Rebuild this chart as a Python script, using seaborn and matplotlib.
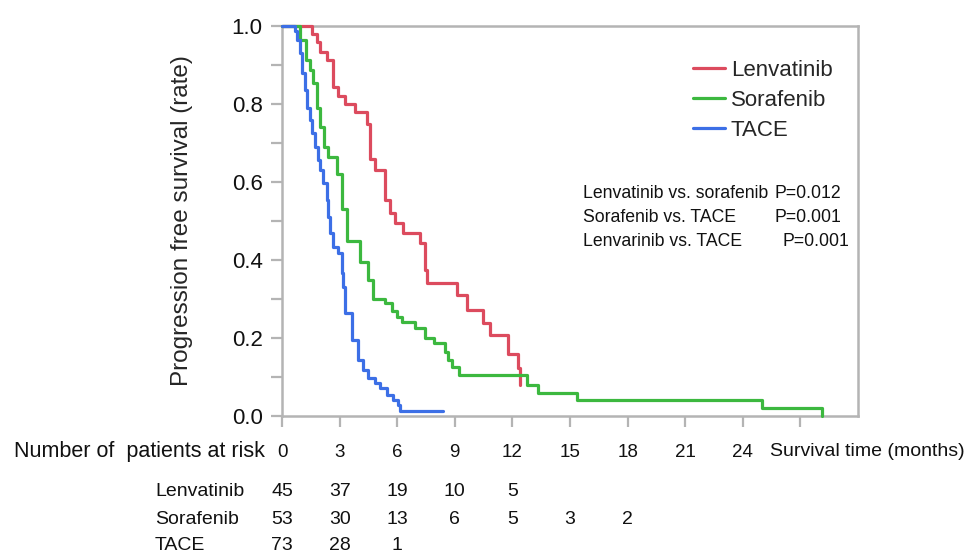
import pandas as pd
import matplotlib
matplotlib.use('Agg')
import matplotlib.pyplot as plt
import matplotlib.transforms as mtransforms
import seaborn as sns

# Kaplan-Meier steps (months, survival after the step)
lenva_t = [0, 1.55, 1.81, 1.98, 2.33, 2.67, 2.93, 3.28, 3.8, 4.41, 4.58, 4.84,
           5.36, 5.62, 5.89, 6.3, 7.19, 7.45, 7.55, 9.1, 9.62, 10.48, 10.83,
           11.77, 12.29, 12.4]
lenva_s = [1.0, 0.98, 0.96, 0.934, 0.913, 0.844, 0.82, 0.80, 0.78, 0.75, 0.66,
           0.63, 0.554, 0.52, 0.495, 0.47, 0.443, 0.374, 0.34, 0.31, 0.272,
           0.238, 0.208, 0.16, 0.122, 0.08]

sora_t = [0, 0.94, 1.23, 1.46, 1.61, 1.82, 1.98, 2.19, 2.4, 2.85, 3.11, 3.37,
          4.06, 4.48, 4.74, 5.36, 5.73, 5.99, 6.25, 6.93, 7.45, 7.92, 8.49,
          8.65, 8.85, 9.22, 12.76, 13.33, 15.36, 25.0, 28.1]
sora_s = [1.0, 0.964, 0.913, 0.887, 0.854, 0.79, 0.74, 0.69, 0.665, 0.62, 0.53,
          0.45, 0.395, 0.35, 0.30, 0.29, 0.27, 0.254, 0.24, 0.225, 0.20, 0.186,
          0.165, 0.144, 0.126, 0.105, 0.08, 0.06, 0.041, 0.02, 0.0]

tace_t = [0, 0.68, 0.8, 0.94, 1.03, 1.2, 1.29, 1.46, 1.55, 1.72, 1.89, 1.98,
          2.15, 2.33, 2.41, 2.5, 2.67, 2.92, 3.11, 3.2, 3.28, 3.63, 3.98, 4.22,
          4.5, 4.84, 5.1, 5.45, 5.8, 6.04, 6.15, 8.4]
tace_s = [1.0, 0.986, 0.964, 0.93, 0.88, 0.836, 0.79, 0.76, 0.726, 0.69, 0.656,
          0.63, 0.597, 0.554, 0.51, 0.47, 0.434, 0.418, 0.367, 0.33, 0.264,
          0.195, 0.144, 0.118, 0.097, 0.085, 0.072, 0.054, 0.041, 0.028, 0.014,
          0.014]

groups = ['Lenvatinib', 'Sorafenib', 'TACE']
colors = ['#dc4b5e', '#3cb83f', '#3c6fe6']

# numbers at risk
risk_times = [0, 3, 6, 9, 12, 15, 18]
risk_lenva = [45, 37, 19, 10, 5]
risk_sora = [53, 30, 13, 6, 5, 3, 2]
risk_tace = [73, 28, 1]

comparisons = ['Lenvatinib vs. sorafenib', 'Sorafenib vs. TACE', 'Lenvarinib vs. TACE']
pvalues = ['P=0.012', 'P=0.001', 'P=0.001']

xticks = [0, 3, 6, 9, 12, 15, 18, 21, 24, 27]
xticklabels = ['0', '3', '6', '9', '12', '15', '18', '21', '24', '']

df = pd.concat([
    pd.DataFrame({'time': lenva_t, 'surv': lenva_s, 'group': 'Lenvatinib'}),
    pd.DataFrame({'time': sora_t, 'surv': sora_s, 'group': 'Sorafenib'}),
    pd.DataFrame({'time': tace_t, 'surv': tace_s, 'group': 'TACE'}),
], ignore_index=True)

sns.set_style('white')
plt.rcParams['font.family'] = ['Liberation Sans', 'DejaVu Sans']

fig = plt.figure(figsize=(9.66, 5.53), dpi=100)
ax = fig.add_axes([282 / 966, 1 - 416 / 553, 576 / 966, 390 / 553])

sns.lineplot(data=df, x='time', y='surv', hue='group', hue_order=groups,
             palette=colors, estimator=None, sort=False,
             drawstyle='steps-post', linewidth=2.3, ax=ax, zorder=3)
for line in ax.get_lines():
    line.set_clip_on(False)

ax.set_xlim(0, 30)
ax.set_ylim(0, 1.0)
ax.set_xticks(xticks, xticklabels)
ax.set_yticks([0, 0.2, 0.4, 0.6, 0.8, 1.0], ['0.0', '0.2', '0.4', '0.6', '0.8', '1.0'])
ax.set_yticks([0.1, 0.3, 0.5, 0.7, 0.9], minor=True)
ax.set_xlabel('')
ax.set_ylabel('Progression free survival (rate)', fontsize=17.5, labelpad=28)

spine_col = '#b4b4b4'
for sp in ax.spines.values():
    sp.set_color(spine_col)
    sp.set_linewidth(1.8)
ax.tick_params(axis='both', which='both', direction='out', color=spine_col,
               length=8, width=1.6, left=True, bottom=True)
ax.tick_params(axis='y', labelsize=16, pad=6, labelcolor='#111111')
ax.tick_params(axis='x', labelsize=13.5, pad=12, labelcolor='#111111')

# legend
handles, labels = ax.get_legend_handles_labels()
ax.legend(handles, groups, loc='upper left', bbox_to_anchor=(693 / 966, 1 - 60 / 553),
          bbox_transform=fig.transFigure, frameon=False, fontsize=16,
          handlelength=1.45, handletextpad=0.25, labelspacing=0.4, borderpad=0,
          borderaxespad=0)

# p-values
for i, (c, p) in enumerate(zip(comparisons, pvalues)):
    y = 1 - (193 + 24 * i) / 553
    fig.text(583 / 966, y, c, fontsize=12.7, va='center', ha='left', color='#111111')
    px = 775 if i < 2 else 783
    fig.text(px / 966, y, p, fontsize=12.7, va='center', ha='left', color='#111111')

# risk table
fig.text(265 / 966, 1 - 452 / 553, 'Number of  patients at risk', fontsize=15.5,
         ha='right', va='center', color='#111111')
fig.text(770 / 966, 1 - 452 / 553, 'Survival time (months)', fontsize=14,
         ha='left', va='center', color='#111111')
trans = mtransforms.blended_transform_factory(ax.transData, fig.transFigure)
rows = [('Lenvatinib', risk_lenva, 492), ('Sorafenib', risk_sora, 520), ('TACE', risk_tace, 545)]
for name, counts, ypx in rows:
    y = 1 - ypx / 553
    fig.text(155 / 966, y, name, fontsize=14, ha='left', va='center', color='#111111')
    for t, n in zip(risk_times, counts):
        ax.text(t, y, str(n), transform=trans, fontsize=14, ha='center',
                va='center', color='#111111')

fig.savefig('out.png', dpi=100, facecolor='white')
